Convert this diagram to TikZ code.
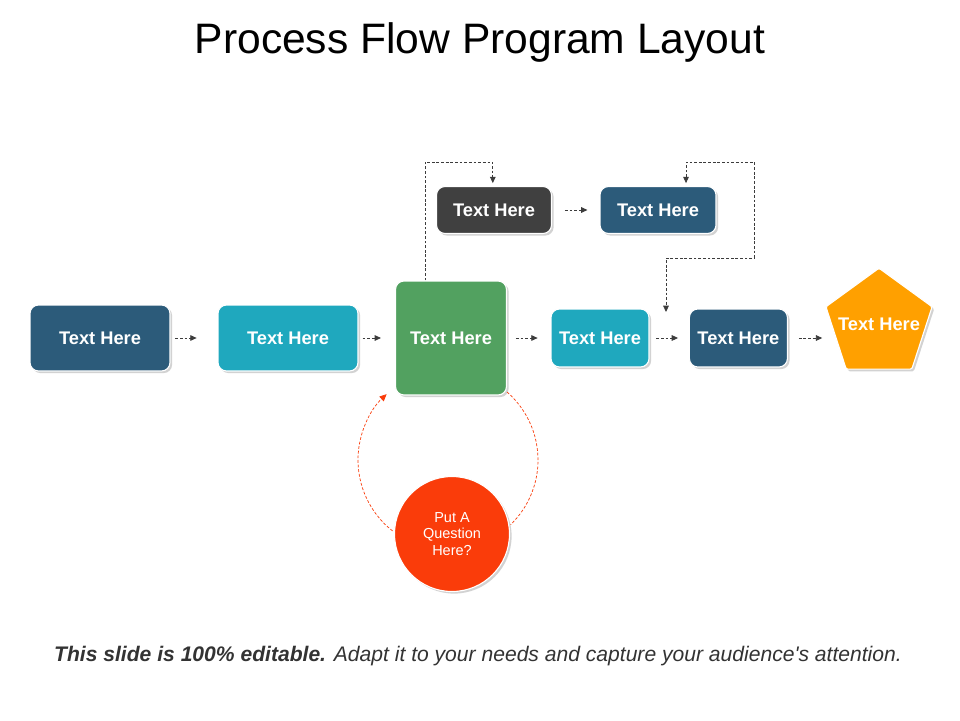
\documentclass[tikz,border=0pt]{standalone}
\usepackage{fontspec}
\setmainfont{Liberation Sans}
\usetikzlibrary{shapes.geometric,shadows,arrows.meta}

\definecolor{navy}{RGB}{44,91,122}
\definecolor{teal}{RGB}{31,168,190}
\definecolor{leaf}{RGB}{82,161,96}
\definecolor{coal}{RGB}{64,64,64}
\definecolor{amber}{RGB}{255,160,0}
\definecolor{flame}{RGB}{250,60,10}
\definecolor{dashgray}{RGB}{60,60,60}

\begin{document}
\begin{tikzpicture}[
    box/.style={rounded corners=6pt, draw=white, line width=0.8pt, text=white,
        font=\fontsize{13}{15}\selectfont\bfseries,
        drop shadow={shadow xshift=1.5pt, shadow yshift=-1.5pt, opacity=0.35}},
    flow/.style={-{Triangle[length=4.5pt,width=4pt]}, dash pattern=on 2pt off 1.3pt,
        draw=dashgray, line width=0.6pt},
    qloop/.style={dash pattern=on 2pt off 1.3pt, draw=flame, line width=0.5pt}]
    % Canvas
    \useasboundingbox[fill=white] (0,0) rectangle (24,18);
    \node (title) at (12,16.95) {\fontsize{30.3}{36}\selectfont Process Flow Program Layout};

    % Main row
    \node[box, fill=navy, minimum width=3.5cm, minimum height=1.65cm] (b1) at (2.5,9.55) {Text Here};
    \node[box, fill=teal, minimum width=3.5cm, minimum height=1.65cm] (b2) at (7.2,9.55) {Text Here};
    \node[box, fill=leaf, minimum width=2.775cm, minimum height=2.85cm] (g) at (11.275,9.55) {Text Here};
    \node[box, fill=teal, minimum width=2.45cm, minimum height=1.45cm] (b4) at (15,9.55) {Text Here};
    \node[box, fill=navy, minimum width=2.45cm, minimum height=1.45cm] (b5) at (18.46,9.55) {Text Here};
    \node[box, fill=amber, regular polygon, regular polygon sides=5, rounded corners=1pt,
        minimum size=2.79cm, inner sep=0pt] (p) at (21.975,9.9) {\makebox[0pt]{Text Here}};

    % Top row
    \node[box, fill=coal, minimum width=2.875cm, minimum height=1.175cm] (tg) at (12.35,12.75) {Text Here};
    \node[box, fill=navy, minimum width=2.9cm, minimum height=1.175cm] (tb) at (16.45,12.75) {Text Here};

    % Question
    \node[circle, fill=flame, draw=white, line width=0.8pt, minimum size=2.875cm, align=center,
        text=white, font=\fontsize{10.3}{12}\selectfont,
        drop shadow={shadow xshift=1.5pt, shadow yshift=-1.5pt, opacity=0.35}]
        (q) at (11.3,4.65) {Put A\\Question\\Here?};

    % Arrows
    \draw[flow, shorten <=0.12cm, shorten >=0.52cm] (b1.east) -- (b2.west);
    \draw[flow, shorten <=0.1cm, shorten >=0.35cm] (b2.east) -- (g.west);
    \draw[flow, shorten <=0.22cm, shorten >=0.32cm] (g.east) -- (b4.west);
    \draw[flow, shorten <=0.17cm, shorten >=0.27cm] (b4.east) -- (b5.west);
    \draw[flow, shorten <=0.27cm, shorten >=1.42cm] (b5.east) -- (b5.east -| p);
    \draw[flow, shorten <=0.32cm, shorten >=0.3cm] (tg.east) -- (tb.west);

    % Loops
    \coordinate (l1) at (10.625,13.95);
    \draw[flow, shorten >=2pt] (g.north -| l1) -- (l1) -| ([xshift=-0.03cm]tg.north);
    \coordinate (r2) at (18.85,13.95);
    \coordinate (m2) at (16.65,11.55);
    \coordinate (gap) at (16.65,10.2);
    \draw[flow, {Triangle[length=4.5pt,width=4pt]}-{Triangle[length=4.5pt,width=4pt]}, shorten <=2pt]
        ([xshift=0.7cm]tb.north) |- (r2) |- (m2) -- (gap);

    % Question loop
    \coordinate (qc) at (11.2,6.5);
    \draw[qloop, -{Triangle[length=5pt,width=4.5pt]}] ([shift={(232:2.25)}]qc) arc[start angle=232, end angle=133, radius=2.25];
    \draw[qloop] ([shift={(49:2.25)}]qc) arc[start angle=49, end angle=-46, radius=2.25];

    % Footer
    \node[text=black!80] (foot) at (11.95,1.6) {\fontsize{15}{18}\selectfont\itshape\textbf{This slide is 100\% editable.} Adapt it to your needs and capture your audience\textquotesingle s attention.};
\end{tikzpicture}
\end{document}
